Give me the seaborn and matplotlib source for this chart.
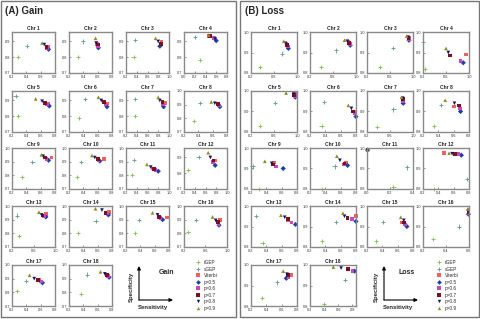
import numpy as np
import pandas as pd
import matplotlib
matplotlib.use("Agg")
import matplotlib.pyplot as plt
import seaborn as sns
from matplotlib.patches import Rectangle, FancyArrowPatch
from matplotlib.lines import Line2D
from matplotlib.ticker import FormatStrFormatter

sns.set_style("ticks")
plt.rcParams["font.family"] = ["Liberation Sans", "DejaVu Sans"]

# ── Data (sensitivity, specificity per chromosome) ──────────────
methods = ["rGEP", "sGEP", "Viterbi", "p=0.5", "p=0.6", "p=0.7", "p=0.8", "p=0.9"]
chroms = [f"Chr {i}" for i in range(1, 19)]

# Gain
gain_rgep_x = [0.28, 0.33, 0.34, 0.29, 0.28, 0.34, 0.36, 0.34, 0.335, 0.31, 0.31, 0.27, 0.33, 0.33, 0.32, 0.28, 0.27, 0.37]
gain_rgep_y = [0.80, 0.80, 0.80, 0.78, 0.80, 0.79, 0.80, 0.78, 0.79, 0.79, 0.80, 0.82, 0.78, 0.80, 0.80, 0.81, 0.81, 0.79]
gain_sgep_x = [0.41, 0.39, 0.37, 0.21, 0.25, 0.42, 0.36, 0.42, 0.485, 0.37, 0.35, 0.47, 0.29, 0.57, 0.38, 0.42, 0.39, 0.45]
gain_sgep_y = [0.87, 0.90, 0.91, 0.93, 0.93, 0.91, 0.91, 0.91, 0.90, 0.90, 0.91, 0.905, 0.93, 0.89, 0.90, 0.90, 0.88, 0.93]
gain_vit_x = [0.70, 0.59, 0.86, 0.47, 0.70, 0.73, 0.92, 0.68, 0.75, 0.69, 0.70, 0.78, 0.83, 0.76, 0.77, 0.87, 0.575, 0.75]
gain_vit_y = [0.865, 0.885, 0.895, 0.935, 0.88, 0.88, 0.885, 0.90, 0.93, 0.92, 0.85, 0.88, 0.94, 0.955, 0.915, 0.90, 0.89, 0.92]
gain_p5_x = [0.71, 0.61, 0.83, 0.60, 0.72, 0.73, 0.90, 0.70, 0.71, 0.63, 0.80, 0.78, 0.83, 0.75, 0.71, 0.85, 0.625, 0.76]
gain_p5_y = [0.85, 0.86, 0.87, 0.905, 0.865, 0.86, 0.86, 0.885, 0.91, 0.905, 0.83, 0.85, 0.92, 0.935, 0.90, 0.86, 0.87, 0.91]
gain_p6_x = [0.69, 0.60, 0.84, 0.56, 0.69, 0.71, 0.89, 0.69, 0.68, 0.61, 0.75, 0.74, 0.79, 0.73, 0.68, 0.84, 0.60, 0.74]
gain_p6_y = [0.86, 0.87, 0.88, 0.92, 0.875, 0.875, 0.875, 0.895, 0.92, 0.91, 0.84, 0.87, 0.925, 0.945, 0.91, 0.87, 0.88, 0.915]
gain_p7_x = [0.68, 0.60, 0.85, 0.48, 0.66, 0.69, 0.88, 0.67, 0.66, 0.60, 0.72, 0.75, 0.77, 0.71, 0.66, 0.83, 0.56, 0.73]
gain_p7_y = [0.865, 0.88, 0.885, 0.935, 0.885, 0.89, 0.89, 0.905, 0.93, 0.92, 0.845, 0.88, 0.93, 0.95, 0.92, 0.885, 0.89, 0.925]
gain_p8_x = [0.65, 0.58, 0.80, 0.58, 0.62, 0.65, 0.83, 0.63, 0.635, 0.56, 0.66, 0.69, 0.75, 0.66, 0.64, 0.79, 0.51, 0.70]
gain_p8_y = [0.88, 0.89, 0.90, 0.915, 0.895, 0.90, 0.90, 0.91, 0.94, 0.93, 0.86, 0.90, 0.935, 0.97, 0.935, 0.895, 0.90, 0.935]
gain_p9_x = [0.62, 0.57, 0.75, 0.46, 0.53, 0.61, 0.80, 0.58, 0.61, 0.52, 0.59, 0.65, 0.70, 0.57, 0.57, 0.73, 0.445, 0.64]
gain_p9_y = [0.89, 0.92, 0.92, 0.94, 0.91, 0.92, 0.92, 0.92, 0.95, 0.945, 0.88, 0.93, 0.955, 0.98, 0.95, 0.92, 0.925, 0.95]

# Loss
loss_rgep_x = [0.36, 0.39, 0.42, 0.24, 0.36, 0.35, 0.38, 0.34, 0.30, 0.35, 0.23, 0.34, 0.35, 0.36, 0.32, 0.29, 0.34, 0.40]
loss_rgep_y = [0.83, 0.83, 0.83, 0.82, 0.83, 0.83, 0.825, 0.83, 0.80, 0.80, 0.81, 0.80, 0.82, 0.83, 0.83, 0.84, 0.84, 0.81]
loss_sgep_x = [0.74, 0.65, 0.65, 0.20, 0.62, 0.38, 0.66, 0.43, 0.22, 0.52, 0.35, 0.77, 0.27, 0.54, 0.41, 0.51, 0.54, 0.69]
loss_sgep_y = [0.895, 0.91, 0.92, 0.95, 0.94, 0.945, 0.91, 0.93, 0.91, 0.91, 0.905, 0.85, 0.95, 0.92, 0.92, 0.90, 0.915, 0.925]
loss_vit_x = [0.82, 0.87, 0.93, 0.95, 0.96, 0.78, 0.83, 0.60, 0.50, 0.67, 0.005, 0.47, 0.68, 0.80, 0.65, 0.595, 0.72, 0.74]
loss_vit_y = [0.94, 0.95, 0.97, 0.89, 0.99, 0.90, 0.955, 0.925, 0.93, 0.93, 0.99, 0.975, 0.93, 0.95, 0.92, 0.98, 0.95, 0.98]
loss_p5_x = [0.85, 0.90, 0.93, 0.90, 0.97, 0.80, 0.83, 0.69, 0.62, 0.69, 0.005, 0.70, 0.78, 0.80, 0.72, 0.595, 0.66, 0.83]
loss_p5_y = [0.92, 0.935, 0.96, 0.85, 0.97, 0.875, 0.94, 0.90, 0.90, 0.915, 0.99, 0.965, 0.91, 0.925, 0.90, 0.96, 0.935, 0.97]
loss_p6_x = [0.84, 0.89, 0.93, 0.85, 0.96, 0.78, 0.83, 0.68, 0.53, 0.64, 0.005, 0.66, 0.73, 0.75, 0.70, 0.595, 0.69, 0.80]
loss_p6_y = [0.93, 0.94, 0.965, 0.86, 0.975, 0.89, 0.95, 0.915, 0.91, 0.92, 0.99, 0.97, 0.92, 0.935, 0.91, 0.965, 0.94, 0.97]
loss_p7_x = [0.83, 0.88, 0.92, 0.67, 0.95, 0.76, 0.83, 0.67, 0.49, 0.65, 0.005, 0.62, 0.68, 0.69, 0.68, 0.597, 0.68, 0.74]
loss_p7_y = [0.935, 0.945, 0.97, 0.885, 0.98, 0.90, 0.96, 0.93, 0.92, 0.925, 0.99, 0.97, 0.935, 0.94, 0.92, 0.97, 0.95, 0.98]
loss_p8_x = [0.80, 0.85, 0.91, 0.64, 0.94, 0.74, 0.82, 0.61, 0.47, 0.59, 0.005, 0.58, 0.64, 0.65, 0.68, 0.593, 0.67, 0.64]
loss_p8_y = [0.945, 0.955, 0.975, 0.90, 0.985, 0.915, 0.965, 0.94, 0.925, 0.94, 0.99, 0.972, 0.945, 0.95, 0.93, 0.975, 0.955, 0.985]
loss_p9_x = [0.77, 0.80, 0.89, 0.60, 0.81, 0.70, 0.80, 0.49, 0.38, 0.55, 0.005, 0.54, 0.59, 0.63, 0.64, 0.59, 0.62, 0.53]
loss_p9_y = [0.955, 0.96, 0.98, 0.92, 0.99, 0.93, 0.97, 0.955, 0.935, 0.96, 0.99, 0.975, 0.955, 0.965, 0.945, 0.985, 0.97, 0.99]

# axis ranges per chromosome
gain_xlim = [(0.2, 0.8), (0.2, 0.8), (0.2, 1.0), (0.0, 0.8), (0.2, 0.8), (0.2, 0.8), (0.2, 1.0), (0.2, 0.8), (0.2, 0.8),
             (0.2, 0.8), (0.2, 1.0), (0.2, 1.0), (0.2, 1.0), (0.2, 0.8), (0.2, 0.8), (0.2, 1.0), (0.2, 0.8), (0.2, 0.8)]
gain_xstep = [0.2, 0.2, 0.2, 0.2, 0.2, 0.2, 0.2, 0.2, 0.2, 0.2, 0.2, 0.2, 0.4, 0.2, 0.2, 0.4, 0.2, 0.2]
gain_ylim = [(0.7, 0.96)] * 7 + [(0.7, 1.0)] * 4 + [(0.7, 0.96)] + [(0.7, 1.0)] * 6
loss_xlim = [(0.2, 1.0), (0.2, 1.0), (0.2, 1.0), (0.2, 1.0), (0.2, 1.0), (0.2, 0.8), (0.2, 1.0), (0.2, 0.8), (0.2, 0.8),
             (0.2, 0.8), (0.0, 0.4), (0.2, 0.8), (0.2, 0.8), (0.2, 0.8), (0.2, 0.8), (0.2, 0.6), (0.2, 0.8), (0.2, 0.85)]
loss_xstep = [0.4, 0.4, 0.4, 0.4, 0.4, 0.2, 0.4, 0.2, 0.2, 0.2, 0.2, 0.2, 0.2, 0.2, 0.2, 0.2, 0.2, 0.2]
loss_ylim = [(0.8, 1.0)] * 18

gain = {"rGEP": (gain_rgep_x, gain_rgep_y), "sGEP": (gain_sgep_x, gain_sgep_y),
        "Viterbi": (gain_vit_x, gain_vit_y), "p=0.5": (gain_p5_x, gain_p5_y),
        "p=0.6": (gain_p6_x, gain_p6_y), "p=0.7": (gain_p7_x, gain_p7_y),
        "p=0.8": (gain_p8_x, gain_p8_y), "p=0.9": (gain_p9_x, gain_p9_y)}
loss = {"rGEP": (loss_rgep_x, loss_rgep_y), "sGEP": (loss_sgep_x, loss_sgep_y),
        "Viterbi": (loss_vit_x, loss_vit_y), "p=0.5": (loss_p5_x, loss_p5_y),
        "p=0.6": (loss_p6_x, loss_p6_y), "p=0.7": (loss_p7_x, loss_p7_y),
        "p=0.8": (loss_p8_x, loss_p8_y), "p=0.9": (loss_p9_x, loss_p9_y)}

def to_long(d):
    rows = []
    for m in methods:
        xs, ys = d[m]
        for c, x, y in zip(chroms, xs, ys):
            rows.append({"chrom": c, "method": m, "sens": x, "spec": y})
    return pd.DataFrame(rows)

df_gain = to_long(gain)
df_loss = to_long(loss)

# ── Styles ──────────────────────────────────────────────────────
pal = {"rGEP": "#7dc242", "sGEP": "#5b9a8f", "Viterbi": "#f0605d", "p=0.5": "#1f3fa8",
       "p=0.6": "#c04bc0", "p=0.7": "#7a1020", "p=0.8": "#15156b", "p=0.9": "#8b8b22"}
mk = {"rGEP": "+", "sGEP": "+", "Viterbi": "s", "p=0.5": "D", "p=0.6": "s",
      "p=0.7": "s", "p=0.8": "v", "p=0.9": "^"}
line_m = ["rGEP", "sGEP"]
fill_m = methods[2:]

W, H = 481, 319
fig = plt.figure(figsize=(W / 100, H / 100), dpi=100)
fx = lambda x: x / W
fy = lambda y: 1 - y / H

row_tops = [32, 91, 148, 206, 265]
ax_h = 41


def draw_panel(df, lefts, ax_w, xlims, xsteps, ylims):
    for i, c in enumerate(chroms):
        r, k = divmod(i, 4)
        ax = fig.add_axes([fx(lefts[k]), fy(row_tops[r] + ax_h), fx(ax_w), ax_h / H])
        sub = df[df["chrom"] == c]
        for group, size, lw in [(line_m, 9, 0.6), (fill_m, 7, 0)]:
            sns.scatterplot(data=sub[sub["method"].isin(group)], x="sens", y="spec",
                            hue="method", style="method",
                            palette={m: pal[m] for m in group},
                            markers={m: mk[m] for m in group},
                            hue_order=group, style_order=group,
                            s=size, linewidth=lw, legend=False, ax=ax, clip_on=False)
        lo, hi = xlims[i]
        ax.set_xlim(lo, hi)
        ax.set_xticks(np.arange(lo, hi + 1e-6, xsteps[i]))
        ylo, yhi = ylims[i]
        ax.set_ylim(ylo, yhi)
        ax.set_yticks(np.arange(ylo, yhi + 1e-6, 0.1))
        ax.xaxis.set_major_formatter(FormatStrFormatter("%.1f"))
        ax.yaxis.set_major_formatter(FormatStrFormatter("%.1f"))
        ax.set_xlabel("")
        ax.set_ylabel("")
        ax.set_title(c, fontsize=3.6, fontweight="bold", pad=1.5)
        ax.tick_params(direction="in", length=1.2, width=0.4, labelsize=2.8, pad=1.5,
                       colors="#444444", labelcolor="#333333")
        for sp in ax.spines.values():
            sp.set_color("#8a8a8a")
            sp.set_linewidth(1.0)


draw_panel(df_gain, [12, 69, 126, 184], 43, gain_xlim, gain_xstep, gain_ylim)
draw_panel(df_loss, [251, 310, 367, 423], 46, loss_xlim, loss_xstep, loss_ylim)

# panel frames and titles
fig.add_artist(Rectangle((fx(1), fy(317)), fx(235), 316 / H, transform=fig.transFigure,
                         fill=False, edgecolor="#777777", linewidth=1.0))
fig.add_artist(Rectangle((fx(240), fy(317)), fx(239), 316 / H, transform=fig.transFigure,
                         fill=False, edgecolor="#777777", linewidth=1.0))
fig.text(fx(5), fy(11), "(A) Gain", fontsize=7, fontweight="bold", va="center", ha="left")
fig.text(fx(245), fy(11), "(B) Loss", fontsize=7, fontweight="bold", va="center", ha="left")

# axis-direction sketches
for x0, word, wx in [(139, "Gain", 167), (384, "Loss", 407)]:
    for end in [(x0, 266), (x0 + 34, 300)]:
        fig.add_artist(FancyArrowPatch((fx(x0), fy(300)), (fx(end[0]), fy(end[1])),
                                       transform=fig.transFigure, arrowstyle="-|>",
                                       mutation_scale=5, linewidth=0.8, color="black",
                                       shrinkA=0, shrinkB=0))
    fig.text(fx(wx), fy(272), word, fontsize=5, fontweight="bold", ha="center", va="center")
    fig.text(fx(x0 - 8), fy(287), "Specificity", fontsize=4.3, fontweight="bold",
             rotation=90, ha="center", va="center")
    fig.text(fx(x0 + 14), fy(308), "Sensitivity", fontsize=4.3, fontweight="bold",
             ha="center", va="center")

# legends
handles = [Line2D([], [], linestyle="none", marker=mk[m], color=pal[m],
                  markersize=2.4, markeredgewidth=0.6 if m in line_m else 0) for m in methods]
for lx in [196, 437]:
    fig.legend(handles, methods, loc="upper left", bbox_to_anchor=(fx(lx), fy(260)),
               frameon=False, fontsize=3.4, labelspacing=0.32, handlelength=1.0,
               handletextpad=0.6, borderaxespad=0, borderpad=0)

fig.savefig("out.png", dpi=100)
